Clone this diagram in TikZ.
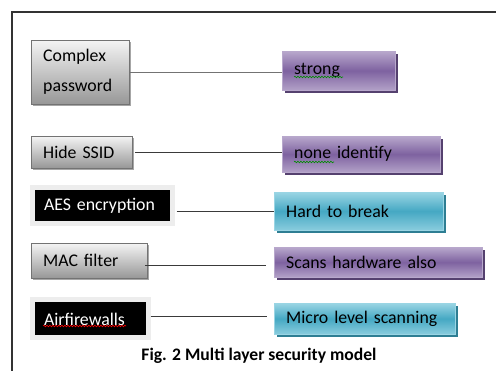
\documentclass[tikz,border=0pt]{standalone}
\usepackage{fontspec}
\setmainfont{Carlito}
\usetikzlibrary{decorations.pathmorphing}
\definecolor{purpleM}{HTML}{7E62A0}
\definecolor{purpleL}{HTML}{B8A8CC}
\definecolor{purpleD}{HTML}{55416F}
\definecolor{tealM}{HTML}{45A8C3}
\definecolor{tealL}{HTML}{9AD5E4}
\definecolor{tealD}{HTML}{2E7E93}
\definecolor{grayL}{HTML}{F4F4F4}
\definecolor{grayD}{HTML}{979797}
\definecolor{lineC}{HTML}{3A3A3A}
\tikzset{
  base/.style={rectangle, inner ysep=0pt, inner xsep=12pt, align=left, anchor=north west,
    font=\fontsize{17.8}{20}\selectfont},
  graybox/.style={base, draw=gray!90!black, top color=grayL, bottom color=grayD, text=black,
    preaction={fill=black!35, transform canvas={xshift=2pt, yshift=-2pt}}},
  purplebox/.style={base, draw=purpleL, top color=purpleL, bottom color=purpleL!90!purpleM,
    middle color=purpleM, text=black,
    preaction={fill=purpleD, transform canvas={xshift=2.5pt, yshift=-3pt}}},
  tealbox/.style={base, draw=tealL, top color=tealL, bottom color=tealL!80!tealM,
    middle color=tealM, text=black,
    preaction={fill=tealD, transform canvas={xshift=2.5pt, yshift=-3pt}}},
  blackbox/.style={base, fill=black, text=white, draw=black!7, line width=5pt,
    preaction={fill=black!18, transform canvas={xshift=1.5pt, yshift=-2pt}}},
  conn/.style={draw=lineC, line width=1pt},
  wavy/.style={decorate, decoration={snake, segment length=3pt, amplitude=0.8pt}, line width=0.6pt}
}
\begin{document}
\begin{tikzpicture}[x=1pt, y=-1pt]
\useasboundingbox (0,0) rectangle (496,371);
\fill[white] (0,0) rectangle (496,371);
\draw[line width=1.2pt, draw=black!80] (12,371) -- (12,12) -- (496,12);

% left boxes
\node[graybox, text width=74pt, minimum height=64pt, font=\fontsize{17.8}{30}\selectfont] (cp) at (31,40) {Complex\\password};
\node[graybox, text width=77pt, minimum height=32pt] (hs) at (31,136) {Hide SSID};
\node[blackbox, text width=116pt, minimum height=36pt] (aes) at (29.5,185) {AES encryption};
\node[graybox, text width=92pt, minimum height=35pt] (mac) at (31,243) {MAC filter};
\node[blackbox, text width=92pt, minimum height=38pt] (air) at (29.5,297.5) {Airfirewalls};

% right boxes
\node[purplebox, text width=89pt, minimum height=39pt] (st) at (282,51) {strong};
\node[purplebox, text width=134pt, minimum height=36pt] (ni) at (282,136) {none identify};
\node[tealbox, text width=145pt, minimum height=38pt] (hb) at (274,192) {Hard to break};
\node[purplebox, text width=184pt, minimum height=30pt] (sh) at (274,247) {Scans hardware also};
\node[tealbox, text width=157pt, minimum height=31pt] (mls) at (274,303) {Micro level scanning};

% connectors
\coordinate (m4) at (266,266);
\coordinate (a5) at (267,317);
\draw[conn, draw=black!55] (cp.east) -- (cp.east -| st.west);
\draw[conn] ([xshift=3pt]hs.east) -- (hs.east -| ni.west);
\draw[conn] ([xshift=2pt,yshift=-6pt]aes.east) -- ([yshift=-6pt]aes.east -| hb.west);
\draw[conn] ([xshift=-2pt]mac.east |- m4) -- (m4);
\draw[conn] (air.east |- a5) -- (a5);

% spell-check underlines
\draw[wavy, draw=green!55!black] (294,77) -- (343,77);
\draw[wavy, draw=green!55!black] (294,162) -- (334,162);
\draw[wavy, draw=red] (43,326) -- (126,326);

% caption
\node[font=\bfseries\fontsize{17.6}{20}\selectfont] (cap) at (259,356) {Fig. 2 Multi layer security model};
\end{tikzpicture}
\end{document}
